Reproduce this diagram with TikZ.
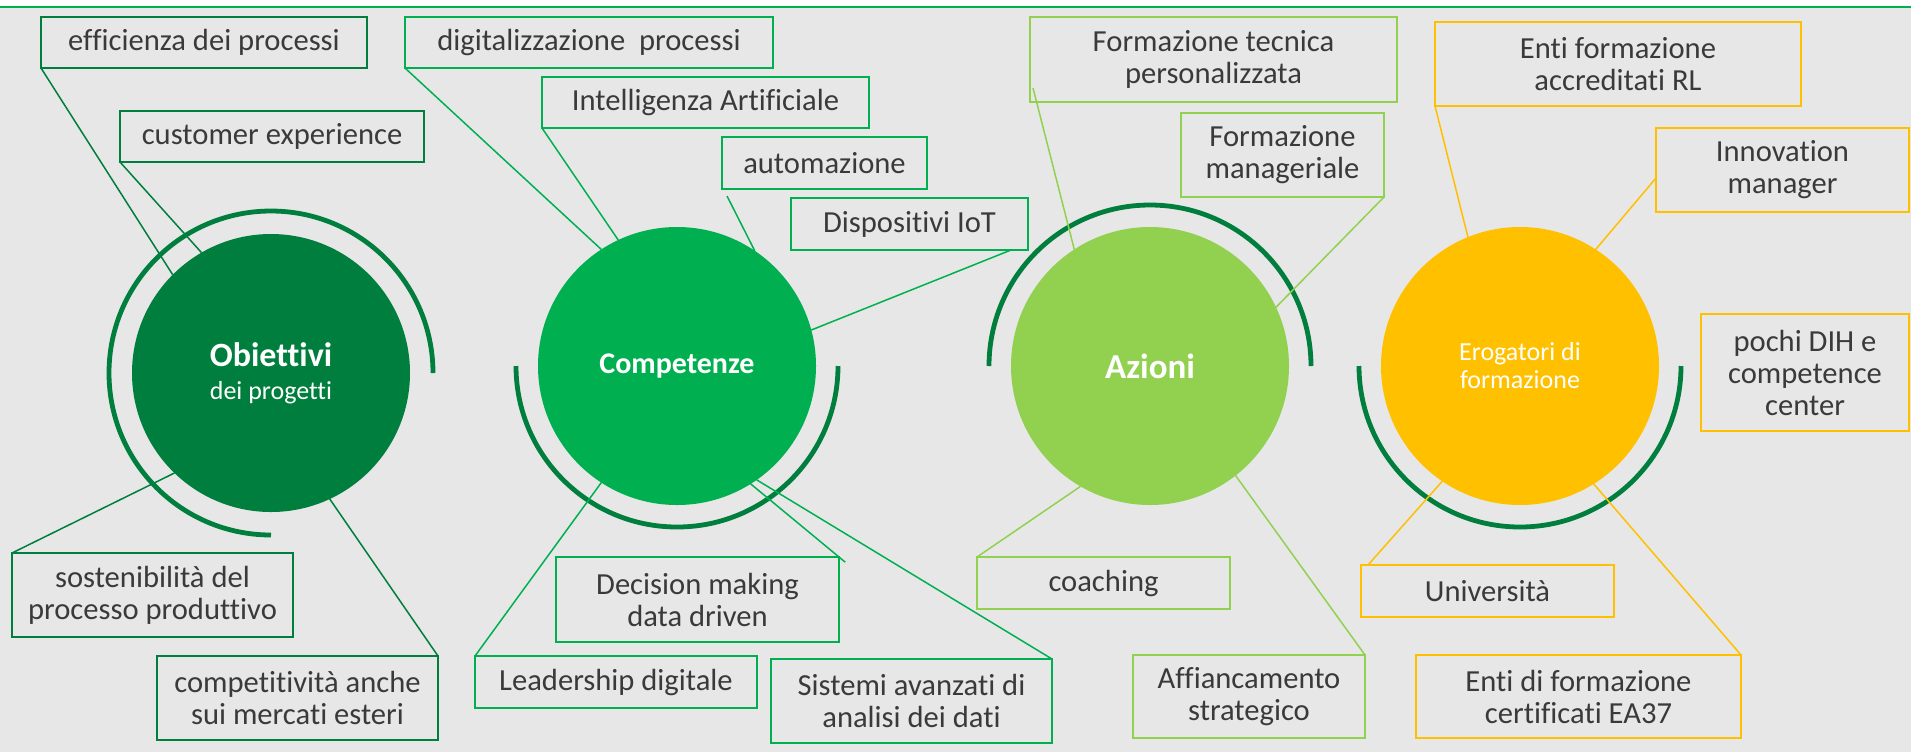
\documentclass[tikz,border=0pt]{standalone}
\usepackage{fontspec}
\setmainfont{Carlito}[Ligatures=NoCommon]
\usetikzlibrary{calc}
\definecolor{gA}{HTML}{007E3D}
\definecolor{gB}{HTML}{00B050}
\definecolor{gC}{HTML}{92D050}
\definecolor{gD}{HTML}{FFC000}
\definecolor{bgc}{HTML}{E7E7E7}
\definecolor{txt}{HTML}{3A3A3A}
\begin{document}
\begin{tikzpicture}[x=0.5pt,y=-0.5pt,
  box/.style={draw=#1, line width=1pt, inner sep=0pt, outer sep=0pt, align=center, text=txt, font=\fontsize{15.3}{16}\selectfont},
  link/.style={draw=#1, line width=0.75pt},
  ring/.style={draw=gA, line width=2.4pt},
  disc/.style={circle, fill=#1, minimum size=139pt, inner sep=0pt, outer sep=0pt, text=white, align=center}
]
\useasboundingbox (0,0) rectangle (1911,752);
\fill[bgc] (0,0) rectangle (1911,752);
\fill[white] (0,0) rectangle (1911,7);
\draw[gB, line width=1pt] (0,7) -- (1911,7);

% circles
\node[disc=gA, font=\fontsize{13}{16.5}\selectfont] (obj) at (271,373) {{\fontsize{17}{16.5}\selectfont\bfseries Obiettivi}\\dei progetti};
\node[disc=gB, font=\fontsize{15}{17}\selectfont\bfseries] (comp) at (677,366) {Competenze};
\node[disc=gC, font=\fontsize{17.5}{20}\selectfont\bfseries] (azi) at (1150,366) {Azioni};
\node[disc=gD, font=\fontsize{13}{14}\selectfont] (ero) at (1520,366) {Erogatori di\\formazione};

% rings
\draw[ring] ([shift={(0:81pt)}]obj.center) arc[start angle=0,end angle=270,radius=81pt];
\draw[ring] ([shift={(180:80.5pt)}]comp.center) arc[start angle=180,end angle=360,radius=80.5pt];
\draw[ring] ([shift={(0:80.5pt)}]azi.center) arc[start angle=0,end angle=180,radius=80.5pt];
\draw[ring] ([shift={(180:80.5pt)}]ero.center) arc[start angle=180,end angle=360,radius=80.5pt];

% boxes group A
\node[box=gA, minimum width=163pt, minimum height=25.5pt] (eff) at (204,42.5) {efficienza dei processi};
\node[box=gA, minimum width=152pt, minimum height=25.5pt] (cust) at (272,136.5) {customer experience};
\node[box=gA, minimum width=140.5pt, minimum height=42pt] (sost) at (152.5,595) {sostenibilità del\\processo produttivo};
\node[box=gA, minimum width=140.5pt, minimum height=42pt] (cmpt) at (297.5,698) {competitività anche\\sui mercati esteri};

% boxes group B
\node[box=gB, minimum width=184pt, minimum height=25.5pt] (digi) at (589,42.5) {digitalizzazione\ \ processi};
\node[box=gB, minimum width=163.5pt, minimum height=25.5pt] (ia) at (705.5,102.5) {Intelligenza Artificiale};
\node[box=gB, minimum width=102.5pt, minimum height=26pt] (auto) at (824.5,163) {automazione};
\node[box=gB, minimum width=118.5pt, minimum height=26pt] (iot) at (909.5,224) {Dispositivi IoT};
\node[box=gB, minimum width=141.5pt, minimum height=42.5pt] (dec) at (697.5,599.5) {Decision making\\data driven};
\node[box=gB, minimum width=141pt, minimum height=26pt] (lead) at (616,682) {Leadership digitale};
\node[box=gB, minimum width=140.5pt, minimum height=42pt] (sis) at (911.5,701) {Sistemi avanzati di\\analisi dei dati};

% boxes group C
\node[box=gC, minimum width=183.5pt, minimum height=42.5pt] (ft) at (1213.5,59.5) {Formazione tecnica\\personalizzata};
\node[box=gC, minimum width=101.5pt, minimum height=42pt] (fm) at (1282.5,155) {Formazione\\manageriale};
\node[box=gC, minimum width=126.5pt, minimum height=26pt] (coach) at (1103.5,583) {coaching};
\node[box=gC, minimum width=116pt, minimum height=41.5pt] (aff) at (1249,696.5) {Affiancamento\\strategico};

% boxes group D
\node[box=gD, minimum width=183pt, minimum height=42pt] (rl) at (1618,64) {Enti formazione\\accreditati RL};
\node[box=gD, minimum width=126.5pt, minimum height=42pt] (inn) at (1782.5,170) {Innovation\\manager};
\node[box=gD, minimum width=104pt, minimum height=58.5pt] (dih) at (1805,372.5) {pochi DIH e\\competence\\center};
\node[box=gD, minimum width=126.5pt, minimum height=26pt] (univ) at (1487.5,591) {Università};
\node[box=gD, minimum width=162.5pt, minimum height=41.5pt] (ea) at (1578.5,696.5) {Enti di formazione\\certificati EA37};

% connectors A
\draw[link=gA] (eff.south west) -- (obj.135);
\draw[link=gA] (cust.south west) -- (obj.120);
\draw[link=gA] (sost.north west) -- (obj.226);
\draw[link=gA] (cmpt.north east) -- (obj.295);

% connectors B
\draw[link=gB] (digi.south west) -- (comp.123);
\draw[link=gB] (ia.south west) -- (comp.115);
\draw[link=gB] ([shift={(5,7)}]auto.south west) -- (comp.56);
\draw[link=gB] ([shift={(-17,0)}]iot.south east) -- (comp.15);
\draw[link=gB] (lead.north west) -- (comp.237);
\draw[link=gB] (comp.302) -- ($(comp.302)!1.07!(dec.north east)$);
\draw[link=gB] (sis.north east) -- (comp.305);

% connectors C
\draw[link=gC] ([shift={(3,-14)}]ft.south west) -- (azi.123);
\draw[link=gC] (fm.south east) -- (azi.25);
\draw[link=gC] (coach.north west) -- (azi.240);
\draw[link=gC] (aff.north east) -- (azi.308);

% connectors D
\draw[link=gD] (rl.south west) -- (ero.112);
\draw[link=gD] ([shift={(0,8)}]inn.west) -- (ero.57);
\draw[link=gD] ([shift={(7,0)}]univ.north west) -- (ero.236);
\draw[link=gD] (ea.north east) -- (ero.302);
\end{tikzpicture}
\end{document}
